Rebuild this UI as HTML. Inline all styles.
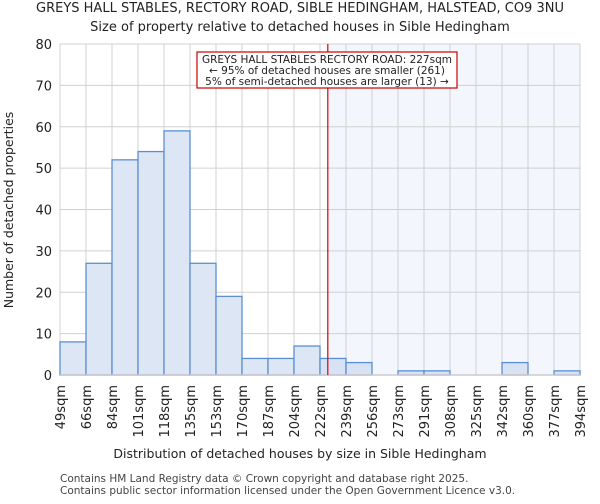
<!DOCTYPE html>
<html><head><meta charset="utf-8"><style>
body{margin:0;background:#fff;font-family:"DejaVu Sans","Liberation Sans",sans-serif;}
svg text{font-family:"DejaVu Sans","Liberation Sans",sans-serif;}
</style></head><body>
<svg id="chart" width="600" height="500" xmlns="http://www.w3.org/2000/svg">
<text x="300" y="12" text-anchor="middle" font-size="13" fill="#222">GREYS HALL STABLES, RECTORY ROAD, SIBLE HEDINGHAM, HALSTEAD, CO9 3NU</text>
<text x="300" y="31" text-anchor="middle" font-size="13" fill="#222">Size of property relative to detached houses in Sible Hedingham</text>
<g id="plot"></g>
<text x="300" y="458" text-anchor="middle" font-size="12.5" fill="#222">Distribution of detached houses by size in Sible Hedingham</text>
<text transform="translate(13,210) rotate(-90)" text-anchor="middle" font-size="12.5" fill="#222">Number of detached properties</text>
<text x="60" y="482" font-size="10.5" fill="#444">Contains HM Land Registry data © Crown copyright and database right 2025.</text>
<text x="60" y="494" font-size="10.5" fill="#444">Contains public sector information licensed under the Open Government Licence v3.0.</text>
</svg>
<script>
const categories=["49sqm","66sqm","84sqm","101sqm","118sqm","135sqm","153sqm","170sqm","187sqm","204sqm","222sqm","239sqm","256sqm","273sqm","291sqm","308sqm","325sqm","342sqm","360sqm","377sqm","394sqm"];
const counts=[8,27,52,54,59,27,19,4,4,7,4,3,0,1,1,0,0,3,0,1];
const yTicks=[0,10,20,30,40,50,60,70,80];
const markerIndex=10.3;
const NS="http://www.w3.org/2000/svg";
const g=document.getElementById('plot');
const X0=60,X1=580,Y0=375,Y1=44,YMAX=80;
const bw=(X1-X0)/counts.length;
const xs=i=>X0+i*bw;
const ys=v=>Y0-(v/YMAX)*(Y0-Y1);
function mk(t,a){const e=document.createElementNS(NS,t);for(const k in a)e.setAttribute(k,a[k]);g.appendChild(e);return e;}
const mx=xs(markerIndex);
let sh=mk('rect',{x:mx,y:Y1,width:X1-mx,height:Y0-Y1,fill:'#f3f6fd'});


yTicks.forEach(v=>{
 let l=mk('line',{x1:X0,x2:X1,y1:ys(v),y2:ys(v),stroke:'#d0d0d0','stroke-width':1});
 
 
 let t=mk('text',{x:X0-8,y:ys(v)+5,'text-anchor':'end','font-size':13,fill:'#222'});
 t.textContent=v;
 
 
});
categories.forEach((c,i)=>{
 let l=mk('line',{x1:xs(i),x2:xs(i),y1:Y1,y2:Y0,stroke:'#d0d0d0','stroke-width':1});
 
 
 let x=xs(i);
 let t=mk('text',{x:0,y:0,'text-anchor':'end','font-size':13,fill:'#222',transform:`translate(${x+5},${Y0+10}) rotate(-90)`});
 t.textContent=c;
 
 
});
counts.forEach((v,i)=>{
 if(v<=0)return;
 let r=mk('rect',{x:xs(i),y:ys(v),width:bw,height:Y0-ys(v),fill:i>=10?'#d7e2f4':'#dde6f4',stroke:'#5b8fd4','stroke-width':1.3});
 
 
});
let ax=mk('line',{x1:X0,x2:X1,y1:Y0,y2:Y0,stroke:'#ccc','stroke-width':1.5});


let ml=mk('line',{x1:mx,x2:mx,y1:Y1,y2:Y0,stroke:'#d00','stroke-width':1.2});


let box=mk('rect',{x:197,y:52,width:260,height:36,fill:'#fff',stroke:'#c00','stroke-width':1.2});


["GREYS HALL STABLES RECTORY ROAD: 227sqm","← 95% of detached houses are smaller (261)","5% of semi-detached houses are larger (13) →"].forEach((s,i)=>{
 let t=mk('text',{x:327,y:63+i*11,'text-anchor':'middle','font-size':10.5,fill:'#222'});
 t.textContent=s;
 
 
});
</script>
</body></html>
